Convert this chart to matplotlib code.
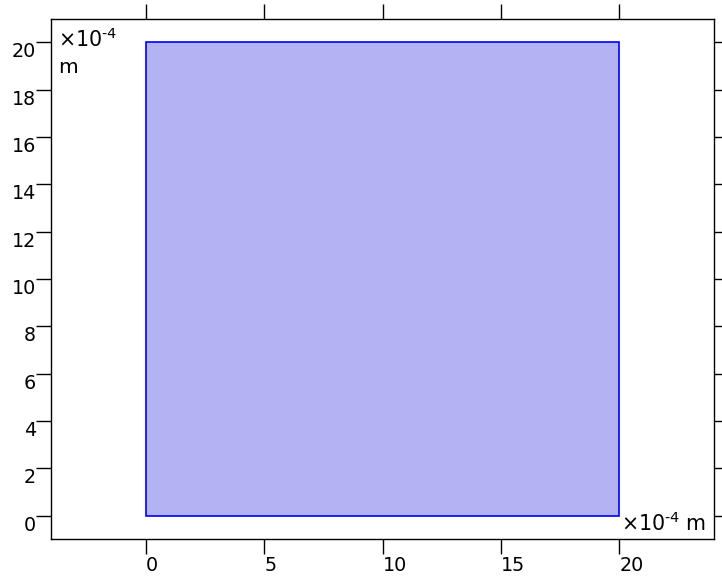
import matplotlib
matplotlib.use("Agg")
import matplotlib.pyplot as plt
from matplotlib.patches import Rectangle

# geometry in units of 1e-4 m
rect_x = [0, 20]
rect_y = [0, 20]
x_ticks = [0, 5, 10, 15, 20]
y_ticks = [0, 2, 4, 6, 8, 10, 12, 14, 16, 18, 20]
x_lim = [-4, 24]
y_lim = [-1, 21]

fig = plt.figure(figsize=(7.22, 5.78), dpi=100)
ax = fig.add_axes([51 / 722, 38 / 578, 663 / 722, 522 / 578])

ax.add_patch(Rectangle((rect_x[0], rect_y[0]), rect_x[1] - rect_x[0], rect_y[1] - rect_y[0],
                       facecolor="#b3b3f3", edgecolor="#0000ff", linewidth=1.2))

ax.set_xlim(x_lim)
ax.set_ylim(y_lim)
ax.set_aspect("equal")
ax.set_xticks(x_ticks)
ax.set_yticks(y_ticks)
ax.set_xticklabels([str(v) for v in x_ticks], ha="left")
ax.set_yticklabels([str(v) for v in y_ticks], va="top")
ax.tick_params(direction="out", length=10.8, width=1.0, labelsize=13.8,
               top=True, right=True, pad=1)
ax.tick_params(axis="y", pad=0)
for s in ax.spines.values():
    s.set_linewidth(1.0)

mult = r"×10$^{\text{-4}}$"
ax.text(0.011, 0.946, mult, transform=ax.transAxes, fontsize=14.8, ha="left", va="baseline")
ax.text(0.011, 0.8946, "m", transform=ax.transAxes, fontsize=14.5, ha="left", va="baseline")
ax.text(0.988, 0.0153, mult + " m", transform=ax.transAxes, fontsize=14.8,
        ha="right", va="baseline")

fig.savefig("out.png", dpi=100)
